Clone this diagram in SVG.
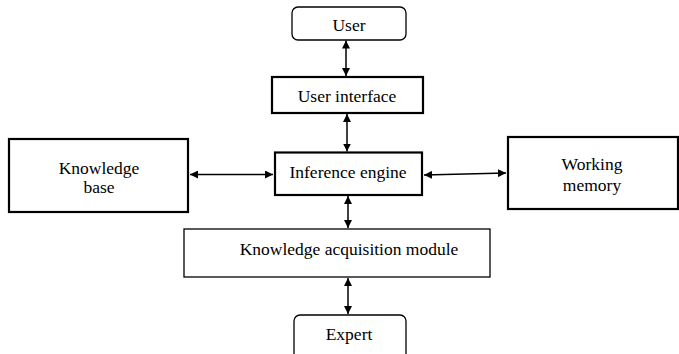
<svg xmlns="http://www.w3.org/2000/svg" width="679" height="354" viewBox="0 0 679 354">
<defs>
<marker id="ah" viewBox="0 0 10 10" refX="10" refY="5" markerWidth="8" markerHeight="8" markerUnits="userSpaceOnUse" orient="auto-start-reverse">
<path d="M0,0 L10,5 L0,10 z" fill="#000"/>
</marker>
<style>
.box{fill:#fff;stroke:#000;stroke-width:1.3}
.thick{stroke-width:2.2}
.c{stroke:#000;stroke-width:1.5;fill:none;marker-start:url(#ah);marker-end:url(#ah)}
.t{font-family:'Liberation Serif',serif;font-size:17.5px;text-anchor:middle;fill:#000}
</style>
</defs>
<rect width="679" height="354" fill="#fff"/>
<g id="connectors">
<line class="c" x1="346" y1="40.5" x2="346" y2="76"/>
<line class="c" x1="347" y1="114" x2="347" y2="151.5"/>
<line class="c" x1="190" y1="174.5" x2="273" y2="174.5"/>
<line class="c" x1="424" y1="175" x2="506" y2="173"/>
<line class="c" x1="348" y1="196" x2="348" y2="228"/>
<line class="c" x1="348" y1="278" x2="348" y2="314"/>
</g>
<g id="user">
<rect class="box" x="292" y="7" width="114" height="33" rx="6"/>
<text class="t" x="349" y="31">User</text>
</g>
<g id="user-interface">
<rect class="box thick" x="272" y="77" width="151" height="36"/>
<text class="t" x="347" y="102">User interface</text>
</g>
<g id="knowledge-base">
<rect class="box thick" x="9" y="139" width="179" height="73"/>
<text class="t" x="99" y="174">Knowledge</text>
<text class="t" x="99" y="193">base</text>
</g>
<g id="inference-engine">
<rect class="box thick" x="275" y="152.5" width="147" height="42.5"/>
<text class="t" x="348" y="178">Inference engine</text>
</g>
<g id="working-memory">
<rect class="box thick" x="508" y="137" width="170" height="72"/>
<text class="t" x="592" y="170">Working</text>
<text class="t" x="592" y="191">memory</text>
</g>
<g id="knowledge-acquisition-module">
<rect class="box" x="184" y="229" width="306" height="48"/>
<text class="t" x="349" y="255">Knowledge acquisition module</text>
</g>
<g id="expert">
<rect class="box" x="294" y="315" width="112" height="45" rx="6"/>
<text class="t" x="349" y="340">Expert</text>
</g>
</svg>
